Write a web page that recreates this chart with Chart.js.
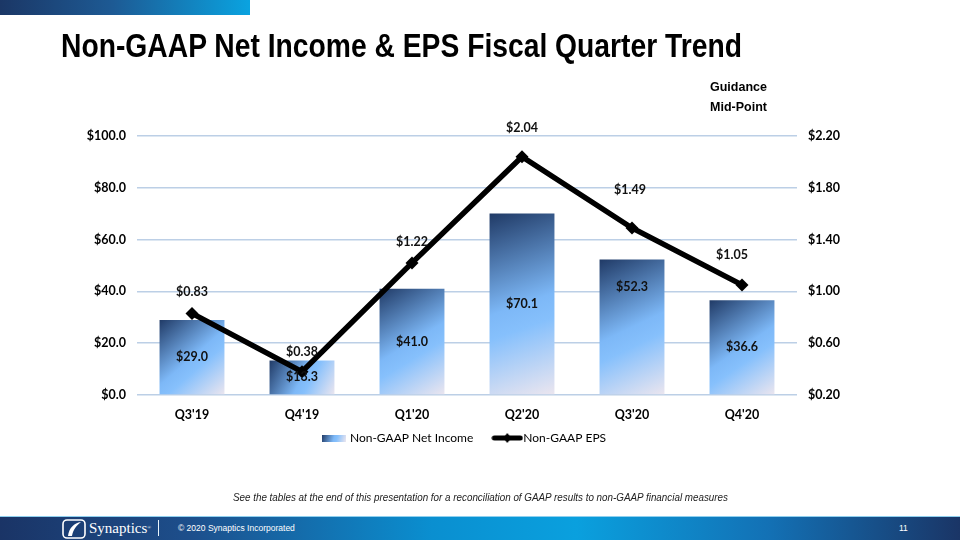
<!DOCTYPE html>
<html>
<head>
<meta charset="utf-8">
<script src="https://cdn.jsdelivr.net/npm/chart.js@4.4.0/dist/chart.umd.min.js"></script>
<style>
  html, body { margin: 0; padding: 0; background: #fff; }
  #wrap { position: relative; width: 960px; height: 540px; overflow: hidden; background: #fff; }
  #topbar { position: absolute; left: 0; top: 0; width: 250px; height: 15px;
    background: linear-gradient(90deg, #1b3766 0%, #1d5a94 45%, #0aa3e0 100%); }
  #title { position: absolute; left: 61px; top: 28px; font-family: "Liberation Sans Narrow", "Liberation Sans", Arial, sans-serif;
    font-weight: bold; font-size: 34px; line-height: 34px; color: #000; white-space: nowrap; transform-origin: 0 0; }
  .guid { position: absolute; left: 710px; font-family: "Liberation Sans", Arial, sans-serif; font-weight: bold; font-size: 12.5px; color: #000; line-height: 14px; }
  #foot { position: absolute; left: 0; top: 490px; width: 960px; text-align: center; font-family: "Liberation Sans", Arial, sans-serif;
    font-style: italic; font-size: 11.5px; color: #222; line-height: 14px; white-space: nowrap; }
  #footbar { position: absolute; left: 0; top: 516px; width: 960px; height: 24px;
    background: linear-gradient(90deg, #1a3466 0%, #1d4f8c 20%, #0a8fd0 45%, #0aa0de 60%, #1371b5 80%, #1a3566 100%);
    border-top: 1px solid #8fd0ef; box-sizing: border-box; }
  #logo { position: absolute; left: 62px; top: 519px; }
  #syn { position: absolute; left: 89px; top: 519px; font-family: "Liberation Serif", serif; font-size: 15px; color: #fff; line-height: 18px; }
  #syn sup { font-size: 5px; vertical-align: top; }
  #sep { position: absolute; left: 158px; top: 520px; width: 1px; height: 16px; background: #e8f4fb; }
  #copy { position: absolute; left: 178px; top: 523px; font-family: "Liberation Sans", Arial, sans-serif; font-size: 8.5px; color: #fff; line-height: 10px; }
  #pg { position: absolute; left: 899px; top: 523px; font-family: "Liberation Sans", Arial, sans-serif; font-size: 8.5px; color: #fff; line-height: 10px; }
  canvas { position: absolute; left: 0; top: 0; }
</style>
</head>
<body>
<div id="wrap">
  <canvas id="c" width="960" height="540"></canvas>
  <div id="topbar"></div>
  <div id="title">Non-GAAP Net Income &amp; EPS Fiscal Quarter Trend</div>
  <div class="guid" style="top:80px">Guidance</div>
  <div class="guid" style="top:100px">Mid-Point</div>
  <div id="foot"><span id="footText">See the tables at the end of this presentation for a reconciliation of GAAP results to non-GAAP financial measures</span></div>
  <div id="footbar"></div>
  <svg id="logo" width="24" height="20" viewBox="0 0 24 20">
    <rect x="1" y="1" width="22" height="18" rx="4" ry="4" fill="none" stroke="#fff" stroke-width="1.6"/>
    <path d="M6 17 C 7 9, 12 4, 19 3 C 14 7, 11 11, 10 17 Z" fill="#fff"/>
  </svg>
  <div id="syn">Synaptics<sup>®</sup></div>
  <div id="sep"></div>
  <div id="copy">© 2020 Synaptics Incorporated</div>
  <div id="pg">11</div>
</div>
<script>
// ---- data ----
const categories = ["Q3'19", "Q4'19", "Q1'20", "Q2'20", "Q3'20", "Q4'20"];
const netIncome = [29.0, 13.3, 41.0, 70.1, 52.3, 36.6];
const eps = [0.83, 0.38, 1.22, 2.04, 1.49, 1.05];
const leftTicks = [0, 20, 40, 60, 80, 100];
const rightTicks = [0.20, 0.60, 1.00, 1.40, 1.80, 2.20];
// label placement tweaks (pixels)
const barLabelDy = [0, 0, 0, 0, -40, 0];
const epsLabelDx = [0, 0, 0, 0, -2, -10];
const epsLabelDy = [-21, -20, -21, -29, -38, -30];

const FONT = "Lato, 'Open Sans', sans-serif";
const BAR_PCT = 0.59;
const LEGEND_SHIFT = -26;
const LEGEND_DX = -15;

function barGradient(c, x0, y0, x1, y1) {
  const g = c.createLinearGradient(x0, y0, x1, y1);
  g.addColorStop(0, '#203a66');
  g.addColorStop(0.5, '#7db8f7');
  g.addColorStop(0.62, '#86c0fc');
  g.addColorStop(1, '#ece6ef');
  return g;
}

// legend swatches
const barSwatch = document.createElement('canvas');
barSwatch.width = 24; barSwatch.height = 7;
(function(){ const c = barSwatch.getContext('2d'); c.fillStyle = barGradient(c, 0, 0, 24, 7); c.fillRect(0,0,24,7); })();
const lineSwatch = document.createElement('canvas');
lineSwatch.width = 32; lineSwatch.height = 12;
(function(){ const c = lineSwatch.getContext('2d');
  c.strokeStyle = '#000'; c.lineWidth = 5; c.lineCap = 'round';
  c.beginPath(); c.moveTo(3, 6); c.lineTo(29, 6); c.stroke();
  c.fillStyle = '#000'; c.beginPath(); c.moveTo(16, 1); c.lineTo(20, 6); c.lineTo(16, 11); c.lineTo(12, 6); c.closePath(); c.fill();
})();

const labelPlugin = {
  id: 'valueLabels',
  afterLayout(chart) {
    const lg = chart.legend;
    if (lg) {
      lg.top += LEGEND_SHIFT; lg.bottom += LEGEND_SHIFT;
      lg.left += LEGEND_DX; lg.right += LEGEND_DX;
    }
  },
  afterDatasetsDraw(chart) {
    const c = chart.ctx;
    c.save();
    c.font = "bold 12.5px " + FONT;
    c.fillStyle = '#111';
    c.textAlign = 'center';
    c.textBaseline = 'middle';
    const barMeta = chart.getDatasetMeta(0);
    barMeta.data.forEach((el, i) => {
      const y = (el.y + el.base) / 2 + barLabelDy[i];
      c.fillText('$' + netIncome[i].toFixed(1), el.x, y);
    });
    const lineMeta = chart.getDatasetMeta(1);
    lineMeta.data.forEach((el, i) => {
      c.fillText('$' + eps[i].toFixed(2), el.x + epsLabelDx[i], el.y + epsLabelDy[i]);
    });
    c.restore();
  }
};

const chart = new Chart(document.getElementById('c'), {
  data: {
    labels: categories,
    datasets: [
      {
        type: 'bar',
        label: 'Non-GAAP Net Income',
        data: netIncome,
        yAxisID: 'y',
        order: 2,
        barPercentage: BAR_PCT,
        categoryPercentage: 1,
        borderWidth: 0,
        backgroundColor: (ctx) => {
          const ch = ctx.chart;
          if (!ch.chartArea || ctx.type !== 'data') return '#6fa8e8';
          const xs = ch.scales.x, ys = ch.scales.y;
          const cx = xs.getPixelForValue(ctx.dataIndex);
          const w = xs.width / categories.length * BAR_PCT;
          const top = ys.getPixelForValue(ctx.raw), bot = ys.getPixelForValue(0);
          return barGradient(ch.ctx, cx - w / 2, top, cx + w / 2, bot);
        }
      },
      {
        type: 'line',
        label: 'Non-GAAP EPS',
        data: eps,
        yAxisID: 'y1',
        order: 1,
        borderColor: '#000',
        borderWidth: 5.5,
        pointStyle: 'rectRot',
        pointRadius: 6.5,
        pointBackgroundColor: '#000',
        pointBorderColor: '#000',
        pointBorderWidth: 0,
        tension: 0
      }
    ]
  },
  options: {
    responsive: false,
    animation: false,
    layout: { padding: { left: 0, right: 0, top: 136, bottom: 60 } },
    plugins: {
      tooltip: { enabled: false },
      legend: {
        position: 'bottom',
        labels: {
          usePointStyle: true,
          pointStyleWidth: 20,
          padding: 24,
          color: '#000',
          font: { family: FONT, size: 12 },
          generateLabels: () => [
            { text: 'Non-GAAP Net Income', pointStyle: barSwatch, datasetIndex: 0, fillStyle: '#000', strokeStyle: '#000', lineWidth: 0, fontColor: '#000' },
            { text: 'Non-GAAP EPS', pointStyle: lineSwatch, datasetIndex: 1, fillStyle: '#000', strokeStyle: '#000', lineWidth: 0, fontColor: '#000' }
          ]
        }
      }
    },
    scales: {
      x: {
        grid: { display: false, drawTicks: false },
        border: { display: false },
        ticks: { padding: 12, color: '#000', font: { family: FONT, size: 12.5, weight: 'bold' } }
      },
      y: {
        position: 'left',
        min: 0, max: 100,
        afterFit: (s) => { s.width = 137; },
        afterBuildTicks: (s) => { s.ticks = leftTicks.map(v => ({ value: v })); },
        grid: { color: '#bccfe6', lineWidth: 1.6, drawTicks: false },
        border: { display: false },
        ticks: { padding: 11, color: '#000', font: { family: FONT, size: 12.5, weight: 'bold' },
          callback: (v) => '$' + Number(v).toFixed(1) }
      },
      y1: {
        position: 'right',
        min: 0.2, max: 2.2,
        afterFit: (s) => { s.width = 163; },
        afterBuildTicks: (s) => { s.ticks = rightTicks.map(v => ({ value: v })); },
        grid: { display: false, drawTicks: false },
        border: { display: false },
        ticks: { padding: 11, color: '#000', font: { family: FONT, size: 12.5, weight: 'bold' },
          callback: (v) => '$' + Number(v).toFixed(2) }
      }
    }
  },
  plugins: [labelPlugin]
});

// fit title / footnote widths to the reference
(function(){
  const t = document.getElementById('title');
  const w = t.getBoundingClientRect().width;
  t.style.transform = 'scaleX(' + (681 / w) + ')';
  const f = document.getElementById('footText');
  const fw = f.getBoundingClientRect().width;
  f.style.display = 'inline-block';
  f.style.transform = 'scaleX(' + (495 / fw) + ')';
})();
</script>
</body>
</html>
